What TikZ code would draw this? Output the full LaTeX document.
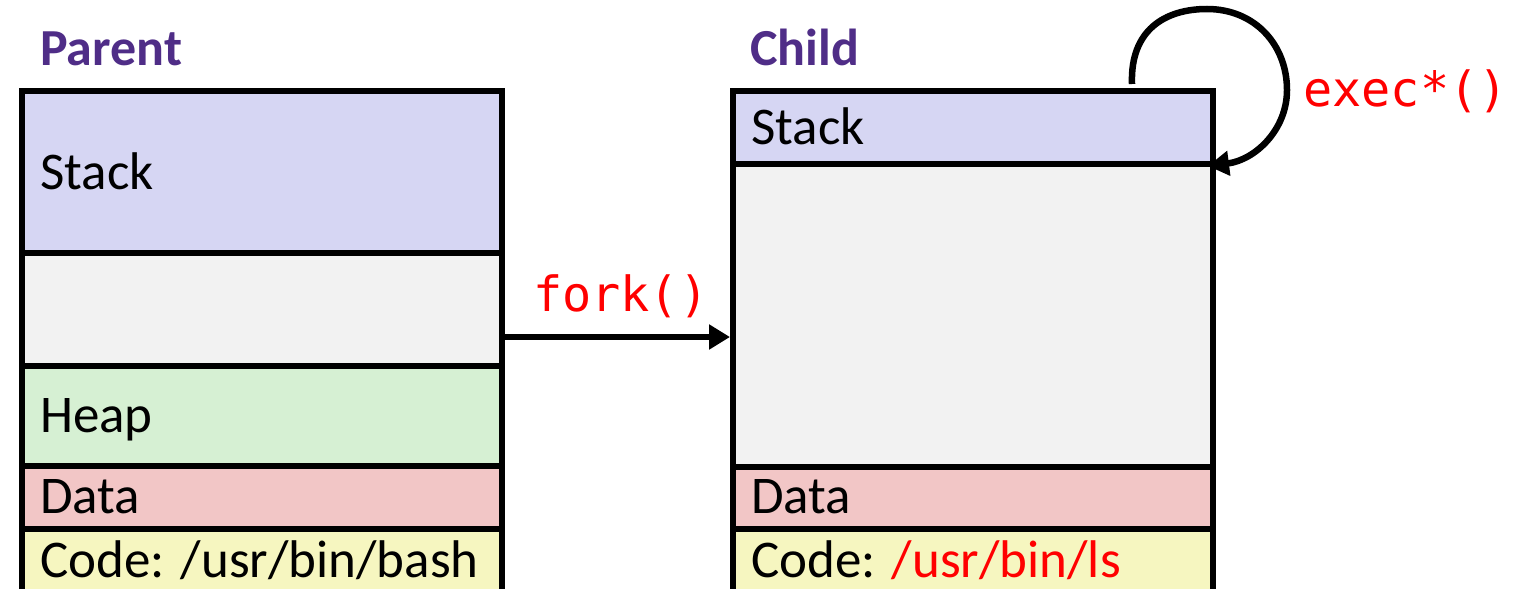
\documentclass[tikz,border=0pt]{standalone}
\usepackage{fontspec}
\setmainfont{Carlito}
\newfontfamily\monof{DejaVu Sans Mono}
\usetikzlibrary{arrows.meta}
\definecolor{ttl}{RGB}{79,45,135}
\definecolor{stackc}{RGB}{214,214,243}
\definecolor{emptyc}{RGB}{242,242,242}
\definecolor{heapc}{RGB}{214,240,211}
\definecolor{datac}{RGB}{242,198,198}
\definecolor{codec}{RGB}{246,246,192}
\definecolor{redc}{RGB}{255,0,0}
\tikzset{
  seg/.style={draw=black, line width=5.5pt, rectangle, minimum width=480pt, inner sep=0pt, anchor=north west},
  lbl/.style={anchor=base west, inner sep=0pt, font=\fontsize{53}{60}\selectfont},
  ttlbl/.style={anchor=base west, inner sep=0pt, text=ttl, font=\fontsize{52}{60}\selectfont\bfseries},
  call/.style={anchor=base west, inner sep=0pt, text=redc, font=\fontsize{48.5}{56}\selectfont\monof},
  conn/.style={line width=6.5pt, -{Triangle[length=21pt,width=24pt]}}
}
\begin{document}
\begin{tikzpicture}[x=1pt,y=-1pt]
\useasboundingbox (0,0) rectangle (1524,589);
\clip (0,0) rectangle (1524,589);
% parent
\node[seg, fill=stackc, minimum height=162pt] (pstack) at (19,88) {};
\node[seg, fill=emptyc, minimum height=113pt] (pempty) at (19,250) {};
\node[seg, fill=heapc, minimum height=100pt] (pheap) at (19,363) {};
\node[seg, fill=datac, minimum height=63pt] (pdata) at (19,463) {};
\node[seg, fill=codec, minimum height=94pt] (pcode) at (19,526) {};
% child
\node[seg, fill=stackc, minimum height=73pt] (cstack) at (730,88) {};
\node[seg, fill=emptyc, minimum height=303pt] (cempty) at (730,161) {};
\node[seg, fill=datac, minimum height=62pt] (cdata) at (730,464) {};
\node[seg, fill=codec, minimum height=94pt] (ccode) at (730,526) {};
% titles
\node[ttlbl] (tpar) at (40,65) {Parent};
\node[ttlbl] (tchild) at (750,65) {Child};
% labels
\node[lbl] (lps) at (40,189) {Stack};
\node[lbl] (lph) at (40,432) {Heap};
\node[lbl] (lpd) at (40,513) {Data};
\node[lbl] (lpc) at (40,577) {Code: /usr/bin/bash};
\node[lbl] (lcs) at (751,144) {Stack};
\node[lbl] (lcd) at (751,513) {Data};
\node[lbl] (lcc) at (751,577) {Code: \textcolor{redc}{/usr/bin/ls}};
% fork
\node[call] (fork) at (533,311) {fork()};
\draw[conn] (pempty.east |- 0,337) -- (cempty.west |- 0,337);
% exec
\coordinate (es) at (1132,84);
\coordinate (ee) at (1208,166);
\draw[conn] (es) .. controls (1130,30) and (1165,9) .. (1207,9)
  .. controls (1255,9) and (1287,45) .. (1287,90)
  .. controls (1287,130) and (1255,160) .. (ee);
\node[call] (exec) at (1303,106) {exec*()};
\end{tikzpicture}
\end{document}
